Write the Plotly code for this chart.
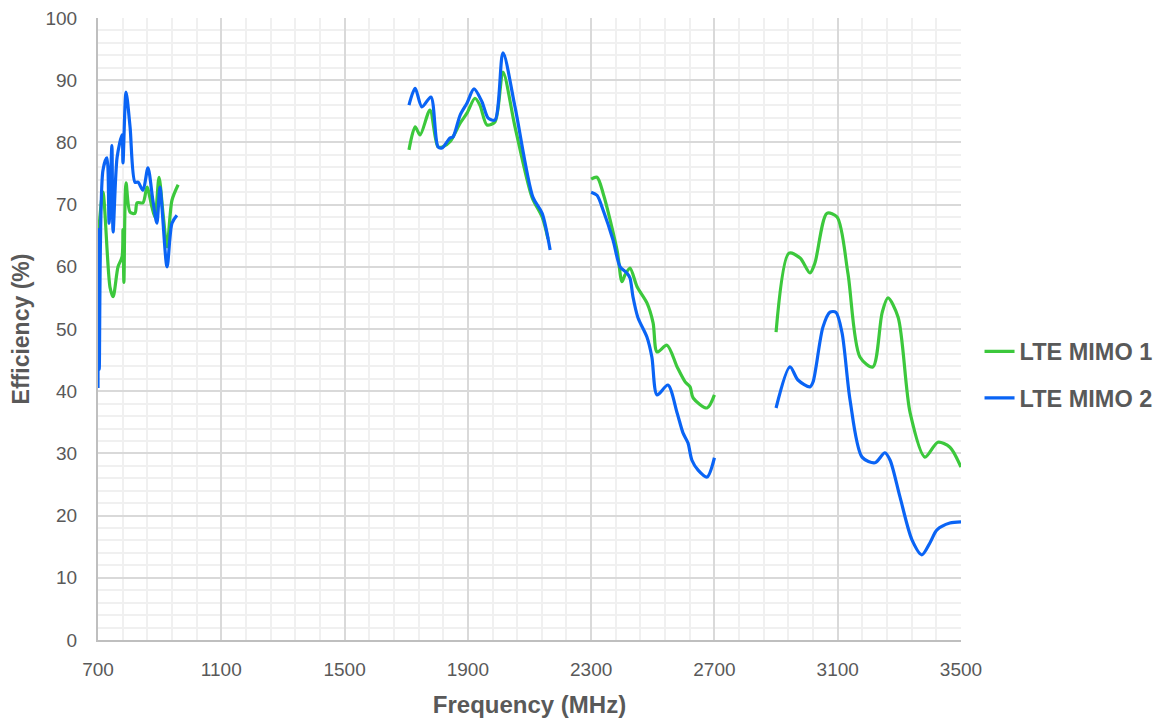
import plotly.graph_objects as go

# LTE MIMO 1 (green) segments
m1_f1 = [703, 716, 739, 749, 765, 778, 781, 784, 791, 804, 820, 827, 846, 859, 875, 885, 898, 911, 924, 940, 960]
m1_e1 = [66, 72, 56.7, 55.2, 60, 61.6, 66, 57.5, 73.5, 68.8, 68.6, 70.3, 70.3, 72.8, 69.6, 68, 74.4, 68.6, 63.2, 70.7, 73.2]
m1_f2 = [1709, 1729, 1745, 1777, 1803, 1819, 1842, 1875, 1897, 1923, 1939, 1962, 1988, 2014, 2053, 2108, 2141, 2160]
m1_e2 = [78.8, 82.5, 81.2, 85.2, 79.3, 79.3, 80.1, 83.1, 84.7, 87.1, 86.0, 82.8, 83.3, 91.3, 82.5, 71.2, 68.0, 64.5]
m1_f3 = [2300, 2319, 2339, 2384, 2400, 2410, 2426, 2449, 2481, 2501, 2514, 2546, 2579, 2605, 2621, 2631, 2676, 2700]
m1_e3 = [74.1, 74.4, 71.8, 62.7, 57.6, 58.7, 59.8, 56.8, 54.2, 51.0, 46.3, 47.4, 43.9, 41.5, 40.7, 38.9, 37.3, 39.4]
m1_f4 = [2900, 2942, 2978, 3010, 3026, 3065, 3098, 3133, 3172, 3214, 3244, 3263, 3296, 3335, 3383, 3425, 3464, 3500]
m1_e4 = [49.5, 62.2, 61.4, 59.0, 60.6, 68.6, 68.0, 59.0, 45.5, 43.9, 52.6, 55.0, 51.9, 36.5, 29.4, 31.8, 31.0, 27.8]

# LTE MIMO 2 (blue) segments
m2_f1 = [700, 701, 704, 716, 729, 736, 745, 749, 762, 778, 781, 791, 804, 820, 830, 846, 862, 878, 891, 901, 924, 940, 956]
m2_e1 = [40.5, 66, 43.5, 75.5, 77.5, 67, 79.5, 65.6, 77.6, 81.2, 76.7, 88.1, 82.5, 73.6, 73.6, 72.3, 75.9, 70.7, 67, 72.8, 60, 67, 68.3]
m2_f2 = [1709, 1729, 1751, 1780, 1803, 1816, 1842, 1852, 1875, 1897, 1920, 1946, 1966, 1988, 2014, 2053, 2111, 2141, 2167]
m2_e2 = [86.0, 88.7, 85.7, 87.3, 79.3, 79.1, 80.7, 80.9, 84.4, 86.3, 88.6, 86.5, 83.9, 83.6, 94.4, 85.7, 71.2, 68.6, 62.7]
m2_f3 = [2300, 2319, 2339, 2371, 2394, 2416, 2426, 2436, 2452, 2481, 2497, 2514, 2549, 2579, 2598, 2614, 2627, 2647, 2676, 2700]
m2_e3 = [72.0, 71.5, 69.1, 64.3, 60.0, 59.0, 58.2, 55.1, 51.8, 48.7, 45.5, 39.4, 41.0, 36.5, 33.3, 31.7, 28.9, 27.3, 26.2, 29.3]
m2_f4 = [2900, 2945, 2971, 3010, 3020, 3052, 3075, 3094, 3114, 3140, 3179, 3221, 3253, 3270, 3302, 3341, 3373, 3399, 3422, 3464, 3500]
m2_e4 = [37.3, 43.9, 41.8, 40.7, 41.5, 50.3, 52.7, 52.7, 49.4, 38.6, 29.4, 28.5, 30.1, 28.9, 23.0, 16.1, 13.7, 15.6, 17.7, 18.8, 19.0]

x_ticks = [700, 1100, 1500, 1900, 2300, 2700, 3100, 3500]
y_ticks = [0, 10, 20, 30, 40, 50, 60, 70, 80, 90, 100]


def join(*segs):
    xs, ys = [], []
    for i in range(0, len(segs), 2):
        if xs:
            xs.append(None)
            ys.append(None)
        xs += segs[i]
        ys += segs[i + 1]
    return xs, ys


x1, y1 = join(m1_f1, m1_e1, m1_f2, m1_e2, m1_f3, m1_e3, m1_f4, m1_e4)
x2, y2 = join(m2_f1, m2_e1, m2_f2, m2_e2, m2_f3, m2_e3, m2_f4, m2_e4)

fig = go.Figure()
fig.add_trace(go.Scatter(x=x1, y=y1, mode="lines", name="LTE MIMO 1", legendgroup="a",
                         line=dict(color="#3CC83C", width=3.2, shape="spline", smoothing=0.8),
                         connectgaps=False))
fig.add_trace(go.Scatter(x=x2, y=y2, mode="lines", name="LTE MIMO 2", legendgroup="b",
                         line=dict(color="#0A64F5", width=3.2, shape="spline", smoothing=0.8),
                         connectgaps=False))

font_family = "Liberation Sans, Arial, sans-serif"
fig.update_layout(
    width=1157, height=716,
    margin=dict(l=90, r=204, t=10, b=84),
    paper_bgcolor="white", plot_bgcolor="white",
    font=dict(family=font_family, color="#595959"),
    showlegend=True,
    legend=dict(xref="container", yref="container", x=0.8397, y=0.4874,
                xanchor="left", yanchor="middle",
                font=dict(size=23.5, color="#595959", family=font_family, weight="bold"),
                tracegroupgap=13, bgcolor="rgba(0,0,0,0)"),
    xaxis=dict(range=[700, 3500], tickmode="array", tickvals=x_ticks,
               ticktext=[str(v) for v in x_ticks], automargin="bottom",
               ticklabeloverflow="allow",
               showgrid=True, gridcolor="#d9d9d9", gridwidth=1.5,
               minor=dict(dtick=80, tick0=700, showgrid=True, gridcolor="#f0f0f0", gridwidth=1.5),
               showline=True, linecolor="#bfbfbf", linewidth=2,
               zeroline=False, ticks="", ticklabelstandoff=11,
               tickfont=dict(size=19, color="#595959"),
               title=dict(text="Frequency (MHz)", standoff=17,
                          font=dict(size=24, color="#595959", weight="bold"))),
    yaxis=dict(range=[0, 100], tickmode="array", tickvals=y_ticks,
               ticktext=[str(v) for v in y_ticks], automargin="left",
               ticklabeloverflow="allow",
               showgrid=True, gridcolor="#d9d9d9", gridwidth=1.5,
               minor=dict(dtick=2, tick0=0, showgrid=True, gridcolor="#f0f0f0", gridwidth=1.5),
               showline=True, linecolor="#bfbfbf", linewidth=2,
               zeroline=False, ticks="", ticklabelstandoff=15,
               tickfont=dict(size=19, color="#595959"),
               title=dict(text="Efficiency (%)", standoff=11,
                          font=dict(size=23, color="#595959", weight="bold"))),
)

fig.write_html("out.html")
